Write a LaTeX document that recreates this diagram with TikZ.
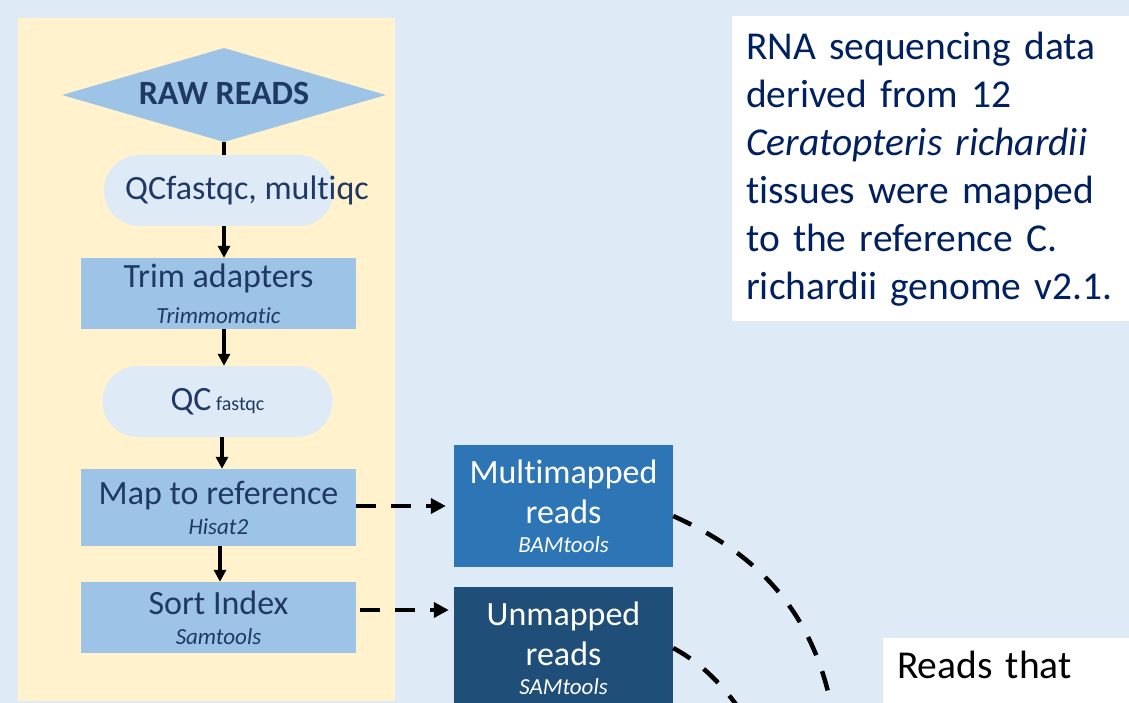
\documentclass[tikz,border=0pt]{standalone}
\usepackage{fontspec}
\setmainfont{Carlito}[Ligatures=NoCommon]
\usetikzlibrary{shapes.geometric,shapes.misc,arrows.meta}

\definecolor{bgblue}{RGB}{222,235,247}
\definecolor{panelyellow}{RGB}{255,242,204}
\definecolor{stepblue}{RGB}{157,195,230}
\definecolor{multiblue}{RGB}{46,117,182}
\definecolor{unmapblue}{RGB}{31,78,121}
\definecolor{flownavy}{RGB}{31,56,100}
\definecolor{infonavy}{RGB}{0,32,96}

\newcommand{\toolname}[1]{{\fontsize{23}{28}\selectfont\itshape #1}}

\begin{document}
\begin{tikzpicture}[x=1pt,y=-1pt,
    stepbox/.style={rectangle,fill=stepblue,text=flownavy,minimum width=275pt,minimum height=71pt,
      inner sep=0pt,align=center,font=\fontsize{34}{40}\selectfont},
    pill/.style={rounded rectangle,fill=bgblue,minimum width=230pt,minimum height=71pt,inner sep=0pt},
    readsbox/.style={rectangle,text=white,minimum width=219pt,minimum height=122pt,inner sep=0pt,
      align=center,font=\fontsize{34}{40}\selectfont},
    flowarrow/.style={line width=3.3pt,-{Triangle[length=12pt,width=12pt]}},
    dasharrow/.style={line width=4.3pt,dash pattern=on 20pt off 15pt,-{Triangle[length=15pt,width=15pt]}},
    dashcurve/.style={line width=4.5pt,dash pattern=on 20pt off 17pt}]
        \useasboundingbox (0,0) rectangle (1129,703);
        \clip (0,0) rectangle (1129,703);

        % Background and panel
        \fill[bgblue] (0,0) rectangle (1129,703);
        \fill[panelyellow] (18,18) rectangle (395,701);

        % Pipeline
        \node[diamond,fill=stepblue,text=flownavy,minimum width=324pt,minimum height=94pt,inner sep=0pt,
          aspect=3.4,font=\fontsize{34}{40}\selectfont\bfseries] (raw) at (224,95) {\raisebox{3pt}{RAW READS}};
        \node[pill] (qc1) at (219,190.5) {};
        \node[text=flownavy,font=\fontsize{34}{40}\selectfont,inner sep=0pt] (qc1text) at (247,190.5) {QCfastqc, multiqc};
        \node[stepbox] (trim) at (218.5,293.5) {Trim adapters\\[-4pt]\toolname{Trimmomatic}};
        \node[pill,text=flownavy,font=\fontsize{34}{40}\selectfont] (qc2) at (217.5,401.5)
          {QC{\fontsize{20}{24}\selectfont\ fastqc}};
        \node[stepbox,minimum height=77pt] (map) at (218.5,507.5) {Map to reference\\[-10pt]\toolname{Hisat2}};
        \node[stepbox] (sort) at (218.5,617.5) {Sort Index\\[-10pt]\toolname{Samtools}};

        % Read sets
        \node[readsbox,fill=multiblue] (multi) at (563.5,506) {Multimapped\\reads\\[-11pt]\toolname{BAMtools}};
        \node[readsbox,fill=unmapblue] (unmap) at (563.5,648) {Unmapped\\reads\\[-11pt]\toolname{SAMtools}};

        % Notes
        \node[anchor=north west,fill=white,text=infonavy,text width=380pt,minimum height=305pt,
          inner xsep=14pt,inner ysep=0pt,align=left,font=\fontsize{39.5}{48}\selectfont] (info) at (732,16)
          {RNA sequencing data\\derived from 12\\\textit{Ceratopteris richardii}\\tissues were mapped\\to the reference C.\\richardii genome v2.1.};
        \node[anchor=north west,fill=white,text=black,text width=240pt,text height=28pt,text depth=80pt,
          inner xsep=14pt,inner ysep=12pt,align=left,font=\fontsize{39.5}{48}\selectfont] (reads) at (883,638) {Reads that};

        % Connectors
        \coordinate (multiend) at (838,760);
        \coordinate (unmapend) at (775,770);
        \draw[line width=3.3pt] (raw.south) -- (raw.south |- qc1.north);
        \draw[flowarrow] (qc1.south -| raw.south) -- (trim.north -| raw.south);
        \draw[flowarrow] (trim.south -| raw.south) -- (qc2.north -| raw.south);
        \draw[flowarrow] ([xshift=-2pt]qc2.south -| raw.south) -- ([xshift=-2pt]map.north -| raw.south);
        \draw[flowarrow] ([xshift=-4pt]map.south -| raw.south) -- ([xshift=-4pt]sort.north -| raw.south);
        \draw[dasharrow,shorten >=8pt] ([yshift=1.5pt]map.east) -- ([yshift=1.5pt]map.east -| multi.west);
        \draw[dasharrow,shorten <=4pt,shorten >=5pt] ([yshift=7.5pt]sort.east) -- ([yshift=7.5pt]sort.east -| unmap.west);
        \draw[dashcurve] ([yshift=-10pt]multi.east) .. controls (760,555) and (830,620) .. (multiend);
        \draw[dashcurve] (unmap.east) .. controls (710,668) and (740,700) .. (unmapend);
\end{tikzpicture}
\end{document}
